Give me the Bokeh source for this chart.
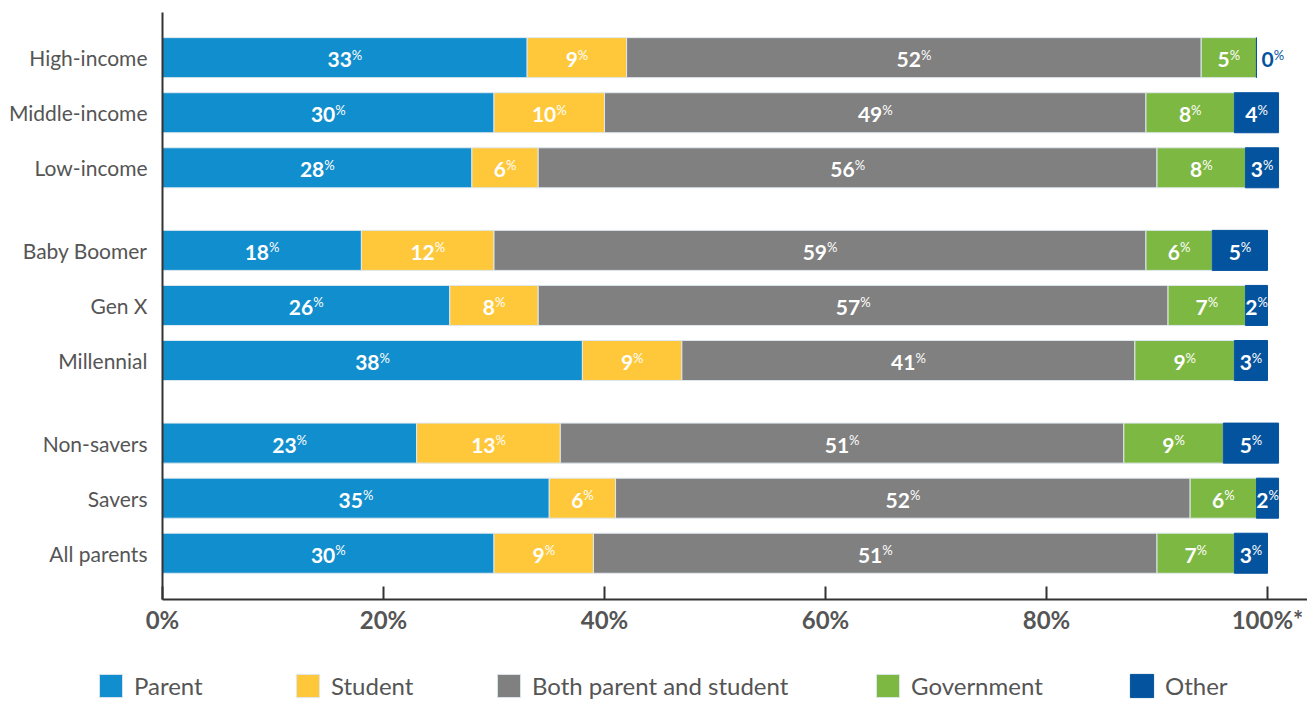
from bokeh.plotting import figure
from bokeh.models import Range1d, FixedTicker, ColumnDataSource, Legend, LegendItem
from bokeh.core.properties import value
from bokeh.embed import file_html
from bokeh.resources import INLINE

groups = [
    ["High-income", "Middle-income", "Low-income"],
    ["Baby Boomer", "Gen X", "Millennial"],
    ["Non-savers", "Savers", "All parents"],
]
categories = [c for g in groups for c in g]
series = ["Parent", "Student", "Both parent and student", "Government", "Other"]
parent = [33, 30, 28, 18, 26, 38, 23, 35, 30]
student = [9, 10, 6, 12, 8, 9, 13, 6, 9]
both = [52, 49, 56, 59, 57, 41, 51, 52, 51]
government = [5, 8, 8, 6, 7, 9, 9, 6, 7]
other = [0, 4, 3, 5, 2, 3, 5, 2, 3]
values = [parent, student, both, government, other]
colors = ["#118ecd", "#fec83a", "#808080", "#7db842", "#04539e"]
x_ticks = [0, 20, 40, 60, 80, 100]
x_tick_labels = ["0%", "20%", "40%", "60%", "80%", "100%*"]

# row positions (gap between groups)
ypos = []
pos = 0
for g in groups:
    for c in g:
        ypos.append(pos)
        pos += 2
    pos += 1

p = figure(frame_width=1145, frame_height=587,
           min_border_left=162, min_border_right=0, min_border_top=12, min_border_bottom=40,
           x_range=Range1d(0, 103.62), y_range=Range1d(19.68, -1.64),
           output_backend="svg", toolbar_location=None)
p.xgrid.visible = False
p.ygrid.visible = False
p.outline_line_color = None

DIG_W = 12.2
PCT_W = 10.3

line_cols = []
lefts = [0] * len(categories)
lab = {"x": [], "y": [], "t": [], "xo": [], "c": []}
for s, vals, col in zip(series, values, colors):
    rights = [l + v for l, v in zip(lefts, vals)]
    src = ColumnDataSource(dict(y=ypos, left=lefts, right=rights))
    lc = col if s == "Other" else "#dfe8ef"
    line_cols.append(lc)
    p.hbar(y="y", left="left", right="right", height=1.454, fill_color=col,
           line_color=lc, line_width=1, source=src)
    for i, v in enumerate(vals):
        t = str(v)
        nw = DIG_W * len(t)
        if v == 0:
            lab["x"].append(rights[i])
            lab["xo"].append(5 + nw)
            lab["c"].append(col)
        else:
            lab["x"].append((lefts[i] + rights[i]) / 2)
            lab["xo"].append((nw - PCT_W) / 2)
            lab["c"].append("white")
        lab["y"].append(ypos[i])
        lab["t"].append(t)
    lefts = rights

lsrc = ColumnDataSource(lab)
p.text(x="x", y="y", text="t", x_offset="xo", y_offset=2, text_align="right",
       text_baseline="middle", text_font=value("Lato"), text_font_style="bold",
       text_font_size="21px", text_color="c", source=lsrc)
p.text(x="x", y="y", text=value("%"), x_offset="xo", y_offset=-3, text_align="left",
       text_baseline="middle", text_font=value("Lato"), text_font_style="normal",
       text_font_size="13px", text_color="c", source=lsrc)

# y axis
p.yaxis.ticker = FixedTicker(ticks=ypos)
p.yaxis.major_label_overrides = {y: c for y, c in zip(ypos, categories)}
p.yaxis.major_tick_line_color = None
p.yaxis.minor_tick_line_color = None
p.yaxis.axis_line_color = "#333333"
p.yaxis.axis_line_width = 2
p.yaxis.major_label_text_font = "Lato"
p.yaxis.major_label_text_font_size = "21px"
p.yaxis.major_label_text_color = "#555555"
p.yaxis.major_label_standoff = 9

# x axis
p.xaxis.ticker = FixedTicker(ticks=x_ticks)
p.xaxis.major_label_overrides = {t: l for t, l in zip(x_ticks, x_tick_labels)}
p.xaxis.major_tick_in = 13
p.xaxis.major_tick_out = 0
p.xaxis.major_tick_line_width = 2
p.xaxis.major_tick_line_color = "#333333"
p.xaxis.minor_tick_line_color = None
p.xaxis.axis_line_color = "#333333"
p.xaxis.axis_line_width = 2
p.xaxis.major_label_text_font = "Lato"
p.xaxis.major_label_text_font_style = "bold"
p.xaxis.major_label_text_font_size = "24px"
p.xaxis.major_label_text_color = "#555555"
p.xaxis.major_label_standoff = 5

# legend strip below the chart (separate root so it is not frame-aligned)
lg = figure(width=1307, height=64, min_border=0, x_range=Range1d(0, 1), y_range=Range1d(0, 1),
            x_axis_location=None, y_axis_location=None,
            output_backend="svg", toolbar_location=None)
lg.xgrid.visible = False
lg.ygrid.visible = False
lg.outline_line_color = None
legend_x = [96, 293, 494, 873, 1127]
for s, col, lc, lx in zip(series, colors, line_cols, legend_x):
    # swatch-only renderer, kept outside the visible range of the strip
    r = lg.hbar(y=[-10], left=[0], right=[1], height=1, fill_color=col,
                line_color=lc, line_width=1)
    leg = Legend(items=[LegendItem(label=s, renderers=[r])], location=(lx, 3),
                 orientation="horizontal", glyph_width=29, glyph_height=29, label_standoff=9,
                 label_text_font="Lato", label_text_font_size="24px",
                 label_text_color="#555555", padding=0, margin=0,
                 border_line_color=None, background_fill_alpha=0)
    lg.add_layout(leg)

open("out.html", "w").write(file_html([p, lg], INLINE))
